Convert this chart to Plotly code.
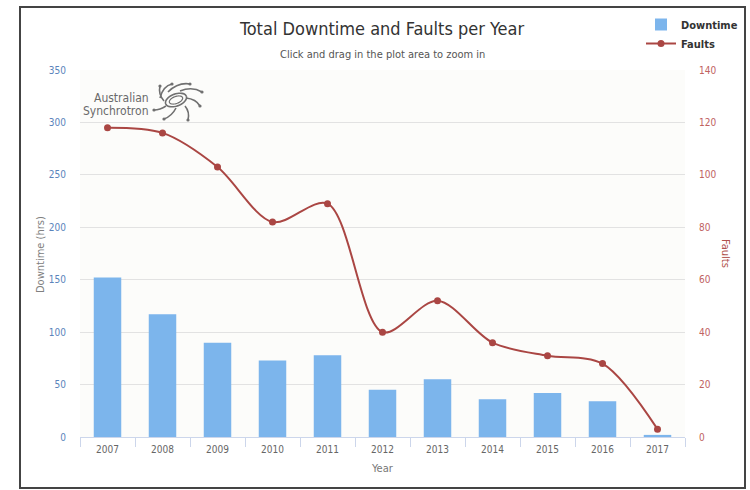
import plotly.graph_objects as go
import math

years = ["2007", "2008", "2009", "2010", "2011", "2012", "2013", "2014", "2015", "2016", "2017"]
downtime = [152, 117, 90, 73, 78, 45, 55, 36, 42, 34, 2]
faults = [118, 116, 103, 82, 89, 40, 52, 36, 31, 28, 3]
left_ticks = [0, 50, 100, 150, 200, 250, 300, 350]
right_ticks = [0, 20, 40, 60, 80, 100, 120, 140]

W, H = 750, 490
L, R, T, B = 80, 685, 70, 437

def px(x):
    return (x - L) / (R - L)

def py(y):
    return (B - y) / (B - T)

FONT = "DejaVu Sans Condensed, DejaVu Sans, sans-serif"

fig = go.Figure()
fig.add_trace(go.Bar(
    x=years, y=downtime, name="Downtime", marker=dict(color="#7cb5ec", line=dict(width=0)),
    yaxis="y",
))
fig.add_trace(go.Scatter(
    x=years, y=faults, name="Faults", yaxis="y2", mode="lines+markers",
    line=dict(color="#aa4643", width=2, shape="spline", smoothing=0.9),
    marker=dict(color="#aa4643", size=7),
))

shapes = []
# outer frame
shapes.append(dict(type="rect", xref="paper", yref="paper",
                   x0=px(20), x1=px(745), y0=py(488), y1=py(7),
                   line=dict(color="#444", width=2), layer="below"))

# logo swirl (decorative)
cx, cy = 176, 100
def ell_path(cx, cy, rx, ry, rot, n=40):
    pts = []
    for i in range(n + 1):
        t = 2 * math.pi * i / n
        x = rx * math.cos(t)
        y = ry * math.sin(t)
        xr = cx + x * math.cos(rot) - y * math.sin(rot)
        yr = cy + x * math.sin(rot) + y * math.cos(rot)
        pts.append((px(xr), py(yr)))
    return "M " + " L ".join(f"{a:.5f},{b:.5f}" for a, b in pts)

logo_col = "#707070"
shapes.append(dict(type="path", xref="paper", yref="paper",
                   path=ell_path(cx, cy, 11, 6, -0.35), line=dict(color=logo_col, width=1.6)))
shapes.append(dict(type="path", xref="paper", yref="paper",
                   path=ell_path(cx, cy, 7, 3.5, -0.35), line=dict(color=logo_col, width=1.2)))
rays = [((160, 98), (163, 86), (172, 84)),
        ((168, 92), (178, 82), (190, 84)),
        ((180, 91), (192, 86), (202, 92)),
        ((186, 98), (196, 99), (200, 106)),
        ((185, 106), (190, 112), (188, 120)),
        ((176, 108), (172, 116), (164, 119)),
        ((166, 106), (160, 110), (154, 110)),
        ((164, 101), (158, 94), (160, 86))]
for (x0, y0), (x1, y1), (x2, y2) in rays:
    shapes.append(dict(type="path", xref="paper", yref="paper",
                       path=f"M {px(x0):.5f},{py(y0):.5f} Q {px(x1):.5f},{py(y1):.5f} {px(x2):.5f},{py(y2):.5f}",
                       line=dict(color=logo_col, width=1.6)))
    shapes.append(dict(type="circle", xref="paper", yref="paper",
                       x0=px(x2 - 1.6), x1=px(x2 + 1.6), y0=py(y2 + 1.6), y1=py(y2 - 1.6),
                       fillcolor=logo_col, line=dict(width=0)))

annotations = [
    dict(text="Australian", x=px(151), y=py(98), xref="paper", yref="paper", xanchor="right",
         yanchor="middle", showarrow=False, font=dict(family=FONT, size=12, color="#6a6a6a")),
    dict(text="Synchrotron", x=px(151), y=py(111), xref="paper", yref="paper", xanchor="right",
         yanchor="middle", showarrow=False, font=dict(family=FONT, size=12, color="#6a6a6a")),
    dict(text="Click and drag in the plot area to zoom in", x=px(382), y=py(54), xref="paper",
         yref="paper", xanchor="center", yanchor="middle", showarrow=False,
         font=dict(family=FONT, size=11, color="#555")),
    dict(text="Faults", x=px(726), y=py(253), xref="paper", yref="paper", xanchor="center",
         yanchor="middle", showarrow=False, textangle=90,
         font=dict(family=FONT, size=11, color="#b0504c")),
    dict(text="Downtime (hrs)", x=px(40), y=py(255), xref="paper", yref="paper", xanchor="center",
         yanchor="middle", showarrow=False, textangle=-90,
         font=dict(family=FONT, size=11, color="#808080")),
    dict(text="Year", x=px(382), y=py(468), xref="paper", yref="paper", xanchor="center",
         yanchor="middle", showarrow=False,
         font=dict(family=FONT, size=11, color="#777")),
]

fig.update_layout(
    width=W, height=H,
    margin=dict(l=L, r=W - R, t=T, b=H - B, pad=0, autoexpand=False),
    paper_bgcolor="white",
    plot_bgcolor="#fcfcfa",
    title=dict(text="Total Downtime and Faults per Year", x=382 / W, xref="container", xanchor="center",
               y=1 - 29 / H, yanchor="middle", font=dict(family=FONT, size=18, color="#333")),
    font=dict(family=FONT, size=10, color="#666"),
    bargap=0.5,
    showlegend=True,
    legend=dict(x=641 / W, y=1 - 10 / H, xanchor="left", yanchor="top", xref="container", yref="container",
                bgcolor="rgba(0,0,0,0)", font=dict(family=FONT, size=11, color="#333", weight="bold"),
                itemwidth=30, tracegroupgap=0),
    xaxis=dict(
        type="category", range=[-0.5, len(years) - 0.5], showgrid=False, showline=True,
        linecolor="#ccd6eb", linewidth=1,
        ticks="outside", tickson="boundaries", ticklen=9, tickcolor="#ccd6eb",
        tickfont=dict(family=FONT, size=10, color="#666"), automargin=False,
        ticklabelstandoff=3, zeroline=False,
    ),
    yaxis=dict(
        range=[0, 350], tickvals=left_ticks, showgrid=True, gridcolor="#e2e2e2", gridwidth=1,
        zeroline=False, showline=False, ticks="outside", ticklen=11, tickcolor="rgba(0,0,0,0)",
        tickfont=dict(family=FONT, size=10, color="#5b84bb"), automargin=False,
    ),
    yaxis2=dict(
        range=[0, 140], tickvals=right_ticks, overlaying="y", side="right", showgrid=False,
        zeroline=False, showline=False, ticks="outside", ticklen=11, tickcolor="rgba(0,0,0,0)",
        tickfont=dict(family=FONT, size=10, color="#c0625f"), automargin=False,
    ),
    shapes=shapes,
    annotations=annotations,
)

fig.write_html("out.html")
